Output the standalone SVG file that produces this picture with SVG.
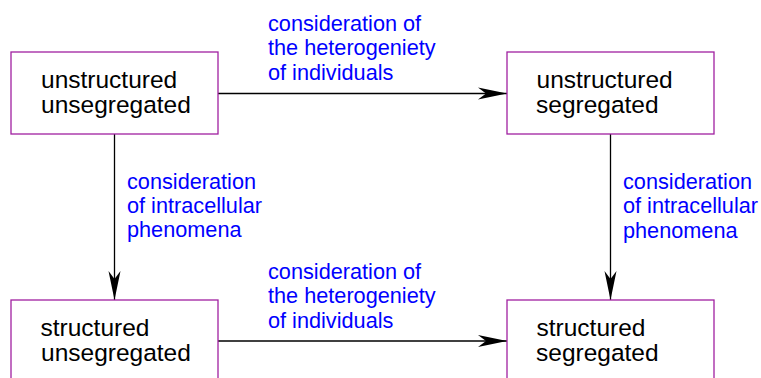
<svg xmlns="http://www.w3.org/2000/svg" width="761" height="378" viewBox="0 0 761 378">
<style>
.box{fill:#fff;stroke:#a020a0;stroke-width:1.3}
.lbl{font-family:"Liberation Sans",Arial,sans-serif;font-size:24.5px;fill:#000}
.edge{font-family:"Liberation Sans",Arial,sans-serif;font-size:21.7px;fill:#0000ff}
.conn{stroke:#000;stroke-width:1.3;fill:none;marker-end:url(#ah)}
</style>
<defs>
<marker id="ah" markerUnits="userSpaceOnUse" viewBox="-30 -7 31 14" refX="0" refY="0" markerWidth="31" markerHeight="14" orient="auto">
<path d="M0,0 L-29,-6 L-21,0 L-29,6 Z" fill="#000"/>
</marker>
</defs>
<rect width="761" height="378" fill="#fff"/>
<g id="connectors">
<line class="conn" x1="218" y1="93.5" x2="507" y2="93.5"/>
<line class="conn" x1="218" y1="341" x2="507" y2="341"/>
<line class="conn" x1="114.5" y1="134" x2="114.5" y2="300"/>
<line class="conn" x1="610.5" y1="134" x2="610.5" y2="300"/>
<text class="edge" x="268" y="30.5">consideration of</text>
<text class="edge" x="268" y="55">the heterogeniety</text>
<text class="edge" x="268" y="80">of individuals</text>
<text class="edge" x="268" y="278.5">consideration of</text>
<text class="edge" x="268" y="303">the heterogeniety</text>
<text class="edge" x="268" y="328">of individuals</text>
<text class="edge" x="127" y="188.5">consideration</text>
<text class="edge" x="127" y="212.5">of intracellular</text>
<text class="edge" x="127" y="237">phenomena</text>
<text class="edge" x="623" y="189">consideration</text>
<text class="edge" x="623" y="213">of intracellular</text>
<text class="edge" x="623" y="237.5">phenomena</text>
</g>
<g id="n1">
<rect class="box" x="11" y="52" width="207" height="82"/>
<text class="lbl" x="41" y="88">unstructured</text>
<text class="lbl" x="41" y="112.5">unsegregated</text>
</g>
<g id="n2">
<rect class="box" x="507" y="52" width="207" height="82"/>
<text class="lbl" x="536.5" y="88">unstructured</text>
<text class="lbl" x="536" y="112.5">segregated</text>
</g>
<g id="n3">
<rect class="box" x="11" y="300" width="207" height="100"/>
<text class="lbl" x="40.5" y="336">structured</text>
<text class="lbl" x="41" y="361">unsegregated</text>
</g>
<g id="n4">
<rect class="box" x="507" y="300" width="207" height="100"/>
<text class="lbl" x="536.5" y="336">structured</text>
<text class="lbl" x="536" y="361">segregated</text>
</g>
</svg>
